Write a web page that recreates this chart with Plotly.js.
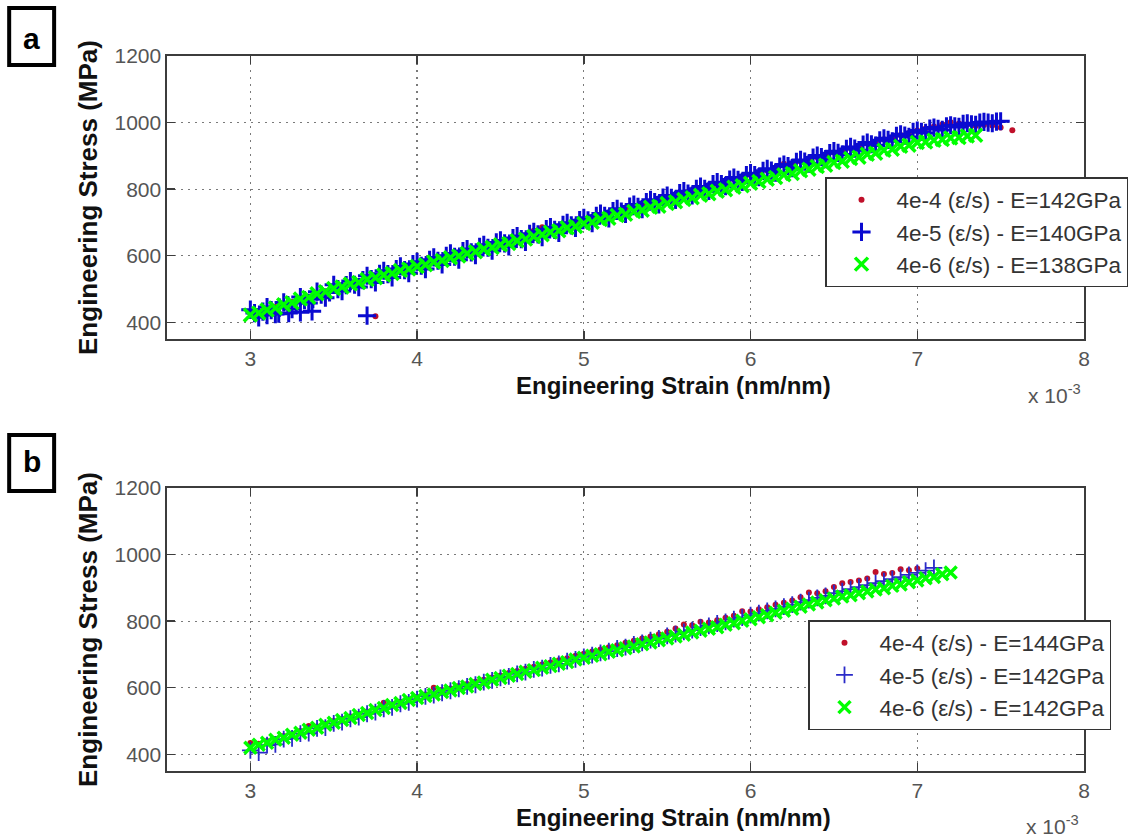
<!DOCTYPE html>
<html>
<head>
<meta charset="utf-8">
<script src="https://cdn.plot.ly/plotly-3.0.1.min.js"></script>
<style>html,body{margin:0;padding:0;background:#fff;}#chart{width:1139px;height:839px;}</style>
</head>
<body>
<div id="chart"></div>
<script>
// ---------- DATA ----------
const strain = [
  3.00,3.05,3.10,3.15,3.20,3.25,3.30,3.35,3.40,3.45,
  3.50,3.55,3.60,3.65,3.70,3.75,3.80,3.85,3.90,3.95,
  4.00,4.05,4.10,4.15,4.20,4.25,4.30,4.35,4.40,4.45,
  4.50,4.55,4.60,4.65,4.70,4.75,4.80,4.85,4.90,4.95,
  5.00,5.05,5.10,5.15,5.20,5.25,5.30,5.35,5.40,5.45,
  5.50,5.55,5.60,5.65,5.70,5.75,5.80,5.85,5.90,5.95,
  6.00,6.05,6.10,6.15,6.20,6.25,6.30,6.35,6.40,6.45,
  6.50,6.55,6.60,6.65,6.70,6.75,6.80,6.85,6.90,6.95,
  7.00,7.05,7.10,7.15,7.20,7.25,7.30,7.35,7.40,7.45,
  7.50
];
const strainMid = [
  3.025,3.075,3.125,3.175,3.225,3.275,3.325,3.375,3.425,3.475,
  3.525,3.575,3.625,3.675,3.725,3.775,3.825,3.875,3.925,3.975,
  4.025,4.075,4.125,4.175,4.225,4.275,4.325,4.375,4.425,4.475,
  4.525,4.575,4.625,4.675,4.725,4.775,4.825,4.875,4.925,4.975,
  5.025,5.075,5.125,5.175,5.225,5.275,5.325,5.375,5.425,5.475,
  5.525,5.575,5.625,5.675,5.725,5.775,5.825,5.875,5.925,5.975,
  6.025,6.075,6.125,6.175,6.225,6.275,6.325,6.375,6.425,6.475,
  6.525,6.575,6.625,6.675,6.725,6.775,6.825,6.875,6.925,6.975,
  7.025,7.075,7.125,7.175,7.225,7.275,7.325,7.375,7.425,7.475
];

// Panel a (stress in MPa, strain in units of 1e-3)
const redA = [
  428,433,441,446,456,461,472,477,487,493,
  503,509,517,523,531,537,545,551,559,565,
  573,579,586,592,600,606,613,619,627,633,
  640,646,654,660,675,686,681,687,695,700,
  708,714,721,727,735,741,748,754,762,768,
  775,781,788,794,802,808,815,821,829,835,
  842,848,856,862,876,875,883,889,896,902,
  910,916,923,929,937,943,950,956,963,969,
  976,982,988,994,1001,997,994,990,993,991,
  985
];
const redAExtraX = [3.75, 7.57];
const redAExtraY = [418, 977];

const blueA = [
  438,415,446,425,460,440,476,458,492,474,
  513,494,524,506,540,520,555,535,568,548,
  582,560,595,574,607,588,620,602,633,615,
  646,628,659,642,672,656,686,669,699,684,
  714,698,727,712,741,726,754,740,768,754,
  781,768,794,781,808,795,821,809,835,822,
  848,836,861,850,874,863,888,877,901,890,
  914,904,927,917,940,931,953,944,965,957,
  976,969,985,978,992,987,998,993,1002,998,
  1004
];
const blueAMid = [
  428,432,437,444,452,458,467,470,483,490,
  500,512,513,527,530,546,545,560,557,575,
  570,588,585,600,597,614,610,627,624,640,
  637,653,650,666,664,680,678,693,691,707,
  706,720,720,734,733,748,747,761,761,775,
  774,788,787,801,801,815,815,829,828,842,
  842,855,856,868,869,882,883,895,896,908,
  909,921,922,934,935,947,948,960,961,972,
  972,982,981,989,989,996,995,1000,1000,1003
];
const blueAExtraX = [3.10, 3.17, 3.23, 3.30, 3.37, 3.70];
const blueAExtraY = [422, 426, 428, 430, 433, 420];

const greenA = [
  422,428,437,443,453,459,470,475,486,492,
  502,506,515,520,529,534,542,547,556,560,
  568,573,581,586,594,599,607,612,620,625,
  633,637,645,650,658,663,671,675,684,688,
  697,701,709,713,721,725,733,737,746,749,
  757,762,769,774,782,786,794,798,806,810,
  818,823,830,835,843,847,855,860,868,872,
  880,884,892,896,905,908,917,920,929,932,
  940,942,947,949,954,955,960,962
];

// Panel b
const redB = [
  434,432,440,446,455,461,470,485,484,492,
  500,507,514,521,529,536,555,550,558,565,
  572,580,600,593,598,605,611,618,624,631,
  637,644,650,657,663,670,676,683,689,696,
  702,709,715,722,728,735,741,748,754,761,
  768,778,790,788,798,796,803,810,816,830,
  829,836,842,849,855,862,872,886,884,890,
  903,914,918,922,928,948,942,945,956,953,
  958
];
const blueB = [
  412,405,428,430,446,448,462,464,478,480,
  493,497,507,512,522,527,537,541,552,556,
  566,574,578,585,591,597,604,609,617,622,
  630,634,642,647,655,659,667,672,680,685,
  693,698,705,710,718,722,730,735,743,748,
  756,761,768,773,781,786,793,798,806,811,
  818,824,831,837,844,850,857,863,870,876,
  884,890,896,902,908,914,920,926,932,939,
  945,952,960
];
const greenB = [
  420,429,435,444,450,459,465,474,480,489,
  495,503,509,518,524,533,539,548,554,563,
  569,575,580,587,592,599,604,611,616,624,
  629,636,641,648,653,660,665,672,677,685,
  690,696,701,708,713,719,724,731,736,743,
  748,754,759,766,771,777,782,789,794,801,
  806,812,818,825,831,837,843,850,856,863,
  868,874,878,884,889,895,899,906,910,917,
  922,929,933,941,946
];

const legendA = ['4e-4 (\u03b5/s) - E=142GPa', '4e-5 (\u03b5/s) - E=140GPa', '4e-6 (\u03b5/s) - E=138GPa'];
const legendB = ['4e-4 (\u03b5/s) - E=144GPa', '4e-5 (\u03b5/s) - E=142GPa', '4e-6 (\u03b5/s) - E=142GPa'];
const xTicks = [3, 4, 5, 6, 7, 8];
const yTicks = [400, 600, 800, 1000, 1200];

// ---------- LAYOUT HELPERS (pixel -> paper) ----------
const W = 1139, H = 839;
const L = 167, R = 1085, T = 56, B = 771;
const px2x = p => (p - L) / (R - L);
const px2y = p => (B - p) / (B - T);
const FONT = 'Liberation Sans, Arial, Helvetica, sans-serif';

const RED = '#c0102a', BLUE = '#0a0ad0', BLUE2 = '#2a2ac8', GREEN = '#00ff00';

const xs = (arr) => strain.slice(0, arr.length);

// interleave main and mid samples of blue (panel a) in strain order
const blueAX = [], blueAY = [];
blueA.forEach((v, i) => {
  blueAX.push(strain[i]); blueAY.push(v);
  if (i < blueAMid.length) { blueAX.push(strainMid[i]); blueAY.push(blueAMid[i]); }
});

const traces = [
  {x: xs(redA).concat(redAExtraX), y: redA.concat(redAExtraY), xaxis:'x', yaxis:'y', legend:'legend',
   type:'scatter', mode:'markers', name: legendA[0],
   marker:{symbol:'circle', size:6, color:RED}},
  {x: blueAX.concat(blueAExtraX), y: blueAY.concat(blueAExtraY), xaxis:'x', yaxis:'y', legend:'legend',
   type:'scatter', mode:'markers', name: legendA[1],
   marker:{symbol:'cross-thin', size:13, color:BLUE, line:{color:BLUE, width:3}}},
  {x: xs(greenA), y: greenA, xaxis:'x', yaxis:'y', legend:'legend',
   type:'scatter', mode:'markers', name: legendA[2],
   marker:{symbol:'x-thin', size:13, color:GREEN, line:{color:GREEN, width:3.5}}},
  {x: xs(redB), y: redB, xaxis:'x2', yaxis:'y2', legend:'legend2',
   type:'scatter', mode:'markers', name: legendB[0],
   marker:{symbol:'circle', size:6, color:RED}},
  {x: xs(blueB), y: blueB, xaxis:'x2', yaxis:'y2', legend:'legend2',
   type:'scatter', mode:'markers', name: legendB[1],
   marker:{symbol:'cross-thin', size:12, color:BLUE2, line:{color:BLUE2, width:1.8}}},
  {x: xs(greenB), y: greenB, xaxis:'x2', yaxis:'y2', legend:'legend2',
   type:'scatter', mode:'markers', name: legendB[2],
   marker:{symbol:'x-thin', size:12, color:GREEN, line:{color:GREEN, width:3.5}}}
];

function xAxis(anchor) {
  return {
    anchor: anchor, domain:[0,1], range:[2.5, 8], tickvals: xTicks, ticktext: xTicks.map(String),
    showline:true, mirror:'ticks', linecolor:'#3c3c3c', linewidth:1.6,
    ticks:'inside', ticklen:8, tickwidth:1.4, tickcolor:'#3c3c3c',
    showgrid:true, gridcolor:'#7a7a7a', gridwidth:1.3, griddash:'2px,5px', zeroline:false,
    tickfont:{family:FONT, size:21, color:'#555'}, ticklabelstandoff: 0
  };
}
function yAxis(anchor, domain) {
  return {
    anchor: anchor, domain: domain, range:[350, 1200], tickvals: yTicks, ticktext: yTicks.map(String),
    showline:true, mirror:'ticks', linecolor:'#3c3c3c', linewidth:1.6,
    ticks:'inside', ticklen:8, tickwidth:1.4, tickcolor:'#3c3c3c',
    showgrid:true, gridcolor:'#7a7a7a', gridwidth:1.3, griddash:'2px,5px', zeroline:false,
    tickfont:{family:FONT, size:21, color:'#555'},
    title:{text:'Engineering Stress (MPa)', standoff:9, font:{family:FONT, size:26, weight:'bold', color:'#111'}}
  };
}

const legendStyle = {
  xanchor:'left', yanchor:'top', bgcolor:'#ffffff', bordercolor:'#333', borderwidth:1.5,
  font:{family:FONT, size:22.5, color:'#333'}, itemwidth:60, tracegroupgap:0
};

const xTitle = 'Engineering Strain (nm/nm)';

const layout = {
  width: W, height: H,
  margin:{l:L, r:W - R, t:T, b:H - B, pad:0},
  paper_bgcolor:'#ffffff', plot_bgcolor:'#ffffff',
  showlegend:true,
  xaxis: xAxis('y'),
  yaxis: yAxis('x', [px2y(339), 1]),
  xaxis2: xAxis('y2'),
  yaxis2: yAxis('x2', [0, px2y(488)]),
  legend: Object.assign({x: px2x(825), y: px2y(177)}, legendStyle),
  legend2: Object.assign({x: px2x(808), y: px2y(620)}, legendStyle),
  annotations: [
    {xref:'paper', yref:'paper', x:px2x(514), y:px2y(385), xanchor:'left', yanchor:'middle', showarrow:false,
     text:xTitle, font:{family:FONT, size:24, weight:'bold', color:'#111'}},
    {xref:'paper', yref:'paper', x:px2x(514), y:px2y(817), xanchor:'left', yanchor:'middle', showarrow:false,
     text:xTitle, font:{family:FONT, size:24, weight:'bold', color:'#111'}},
    {xref:'paper', yref:'paper', x:px2x(1084), y:px2y(394), xanchor:'right', yanchor:'middle', showarrow:false,
     text:'x 10<sup>-3</sup>', font:{family:FONT, size:21, color:'#555'}},
    {xref:'paper', yref:'paper', x:px2x(1082), y:px2y(825), xanchor:'right', yanchor:'middle', showarrow:false,
     text:'x 10<sup>-3</sup>', font:{family:FONT, size:21, color:'#555'}},
    {xref:'paper', yref:'paper', x:px2x(31.5), y:px2y(38), xanchor:'center', yanchor:'middle', showarrow:false,
     text:'a', font:{family:FONT, size:30, weight:'bold', color:'#000'}},
    {xref:'paper', yref:'paper', x:px2x(31.5), y:px2y(461), xanchor:'center', yanchor:'middle', showarrow:false,
     text:'b', font:{family:FONT, size:30, weight:'bold', color:'#000'}}
  ],
  shapes: [
    {type:'rect', xref:'paper', yref:'paper', x0:px2x(9), x1:px2x(54), y0:px2y(65), y1:px2y(8),
     line:{color:'#000', width:4}, fillcolor:'rgba(0,0,0,0)'},
    {type:'rect', xref:'paper', yref:'paper', x0:px2x(9), x1:px2x(54), y0:px2y(491), y1:px2y(435),
     line:{color:'#000', width:4}, fillcolor:'rgba(0,0,0,0)'}
  ]
};

Plotly.newPlot('chart', traces, layout, {displayModeBar:false, staticPlot:true});
</script>
</body>
</html>
